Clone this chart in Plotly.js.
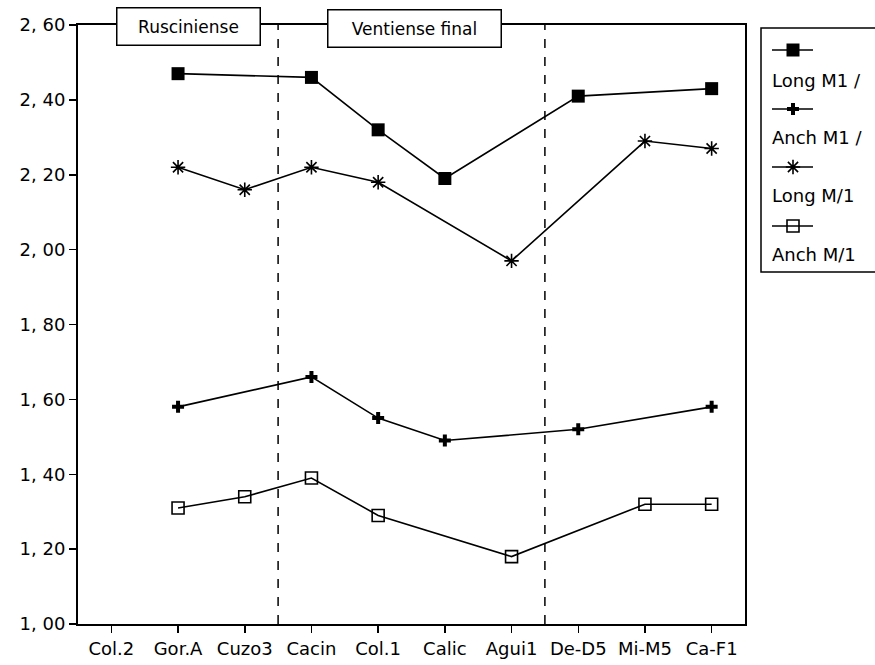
<!DOCTYPE html>
<html><head><meta charset="utf-8">
<script src="https://cdn.plot.ly/plotly-3.0.1.min.js"></script>
<style>html,body{margin:0;padding:0;background:#fff}#chart{width:875px;height:665px}</style>
</head><body><div id="chart"></div>
<script>
// ---- data ----
const categories = ['Col.2','Gor.A','Cuzo3','Cacin','Col.1','Calic','Agui1','De-D5','Mi-M5','Ca-F1'];
const longM1sup = [null, 2.47, null, 2.46, 2.32, 2.19, null, 2.41, null, 2.43];
const anchM1sup = [null, 1.58, null, 1.66, 1.55, 1.49, null, 1.52, null, 1.58];
const longM1inf = [null, 2.22, 2.16, 2.22, 2.18, null, 1.97, null, 2.29, 2.27];
const anchM1inf = [null, 1.31, 1.34, 1.39, 1.29, null, 1.18, null, 1.32, 1.32];
const seriesNames = ['Long M1 /', 'Anch M1 /', 'Long M/1', 'Anch M/1'];
const yTickVals = [1.0, 1.2, 1.4, 1.6, 1.8, 2.0, 2.2, 2.4, 2.6];
const yTickText = ['1, 00','1, 20','1, 40','1, 60','1, 80','2, 00','2, 20','2, 40','2, 60'];
const periods = ['Rusciniense', 'Ventiense final'];

// ---- styles ----
const FONT = 'DejaVu Sans, Liberation Sans, sans-serif';
const markers = [
  {symbol:'square', size:13, color:'#000', line:{width:0}},
  {symbol:'cross', size:10, color:'#000', line:{width:0}},
  {symbol:'asterisk-open', size:12, color:'#000', line:{width:1.6, color:'#000'}},
  {symbol:'square-open', size:12, color:'#000', line:{width:1.6, color:'#000'}}
];
const seriesVals = [longM1sup, anchM1sup, longM1inf, anchM1inf];

const traces = seriesVals.map((vals, i) => ({
  x: categories, y: vals, type:'scatter', mode:'lines+markers',
  name: seriesNames[i], connectgaps:true, showlegend:false, cliponaxis:false,
  line:{color:'#000', width:1.6}, marker: markers[i], xaxis:'x', yaxis:'y'
}));

// hand-drawn legend samples on a pixel overlay subplot
const legLineX = [772, 813];
const legMarkX = 793;
const legRowsY = [50, 109, 167, 226];
seriesNames.forEach((n, i) => {
  traces.push({
    x: legLineX, y: [legRowsY[i], legRowsY[i]],
    type:'scatter', mode:'lines', showlegend:false, cliponaxis:false,
    xaxis:'x2', yaxis:'y2', line:{color:'#000', width:1.4}, hoverinfo:'skip'
  });
  traces.push({
    x: [legMarkX], y: [legRowsY[i]],
    type:'scatter', mode:'markers', showlegend:false, cliponaxis:false,
    xaxis:'x2', yaxis:'y2', marker: markers[i], hoverinfo:'skip'
  });
});

const annotations = [
  {xref:'x2', yref:'y2', x:188, y:26, text:periods[0], showarrow:false,
   font:{family:FONT, size:17, color:'#000'}, bgcolor:'#fff', bordercolor:'#000',
   borderwidth:1.5, borderpad:2, width:138, height:32},
  {xref:'x2', yref:'y2', x:414, y:28, text:periods[1], showarrow:false,
   font:{family:FONT, size:17, color:'#000'}, bgcolor:'#fff', bordercolor:'#000',
   borderwidth:1.5, borderpad:2, width:168, height:32}
];
const legTextY = [80, 137, 195, 254];
seriesNames.forEach((n, i) => {
  annotations.push({xref:'x2', yref:'y2', x:770, y:legTextY[i], xanchor:'left', yanchor:'middle',
    text:n, showarrow:false, font:{family:FONT, size:18, color:'#000'}});
});

const layout = {
  width:875, height:665,
  margin:{l:78, r:0, t:25, b:41},
  paper_bgcolor:'#fff', plot_bgcolor:'rgba(0,0,0,0)',
  font:{family:FONT, color:'#000'},
  xaxis:{
    domain:[0, 667/797], type:'category', categoryarray:categories,
    range:[-0.5, 9.5], showgrid:false, zeroline:false, anchor:'y',
    showline:true, linecolor:'#000', linewidth:2, mirror:true,
    ticks:'outside', ticklen:7, tickwidth:1.5, tickcolor:'#000',
    tickfont:{family:FONT, size:18, color:'#000'}
  },
  yaxis:{
    domain:[0,1], range:[1.0, 2.6], showgrid:false, zeroline:false, anchor:'x',
    showline:true, linecolor:'#000', linewidth:2, mirror:true,
    ticks:'outside', ticklen:7, tickwidth:1.5, tickcolor:'#000',
    tickvals:yTickVals, ticktext:yTickText,
    tickfont:{family:FONT, size:18, color:'#000'}
  },
  xaxis2:{domain:[0,1], range:[78, 875], visible:false, anchor:'y2', fixedrange:true, showgrid:false, zeroline:false},
  yaxis2:{domain:[0,1], range:[624, 25], visible:false, anchor:'x2', fixedrange:true, showgrid:false, zeroline:false},
  shapes:[
    {type:'line', xref:'x', yref:'paper', x0:2.5, x1:2.5, y0:0, y1:1, line:{color:'#000', width:1.5, dash:'dash'}},
    {type:'line', xref:'x', yref:'paper', x0:6.5, x1:6.5, y0:0, y1:1, line:{color:'#000', width:1.5, dash:'dash'}},
    {type:'rect', xref:'x2', yref:'y2', x0:761, x1:890, y0:28, y1:272, line:{color:'#000', width:1.5}, fillcolor:'rgba(0,0,0,0)'}
  ],
  annotations: annotations
};

Plotly.newPlot('chart', traces, layout, {staticPlot:true, displayModeBar:false});
</script>
</body></html>
